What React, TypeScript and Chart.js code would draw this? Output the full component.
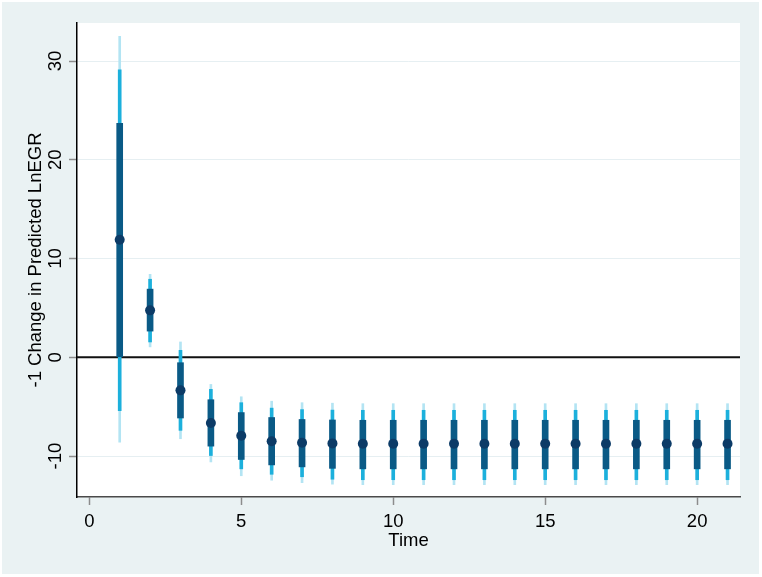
import React, { useEffect, useRef } from "react";
import { Chart, registerables } from "chart.js";

Chart.register(...registerables);

const periods = [1, 2, 3, 4, 5, 6, 7, 8, 9, 10, 11, 12, 13, 14, 15, 16, 17, 18, 19, 20, 21];
const estimate = [11.9, 4.75, -3.35, -6.65, -7.95, -8.5, -8.65, -8.72, -8.75, -8.75, -8.75, -8.75, -8.75, -8.75, -8.75, -8.75, -8.75, -8.75, -8.75, -8.75, -8.75];
const ci68Low = [0.0, 2.65, -6.15, -9.0, -10.35, -10.9, -11.1, -11.25, -11.3, -11.3, -11.3, -11.3, -11.3, -11.3, -11.3, -11.3, -11.3, -11.3, -11.3, -11.3, -11.3];
const ci68High = [23.7, 6.9, -0.55, -4.3, -5.6, -6.1, -6.3, -6.35, -6.38, -6.38, -6.38, -6.38, -6.38, -6.38, -6.38, -6.38, -6.38, -6.38, -6.38, -6.38, -6.38];
const ci90Low = [-5.4, 1.55, -7.4, -9.95, -11.3, -11.85, -12.1, -12.35, -12.4, -12.4, -12.4, -12.4, -12.4, -12.4, -12.4, -12.4, -12.4, -12.4, -12.4, -12.4, -12.4];
const ci90High = [29.1, 7.9, 0.7, -3.25, -4.6, -5.15, -5.3, -5.35, -5.37, -5.37, -5.37, -5.37, -5.37, -5.37, -5.37, -5.37, -5.37, -5.37, -5.37, -5.37, -5.37];
const ci95Low = [-8.6, 1.05, -8.25, -10.6, -12.0, -12.45, -12.7, -12.85, -12.9, -12.9, -12.9, -12.9, -12.9, -12.9, -12.9, -12.9, -12.9, -12.9, -12.9, -12.9, -12.9];
const ci95High = [32.5, 8.4, 1.55, -2.75, -4.0, -4.45, -4.6, -4.65, -4.7, -4.7, -4.7, -4.7, -4.7, -4.7, -4.7, -4.7, -4.7, -4.7, -4.7, -4.7, -4.7];
const zeroLine = 0;
const xTitle = "Time";
const yTitle = "-1 Change in Predicted LnEGR";

const FONT = "'Liberation Sans', Arial, sans-serif";

export default function App() {
  const ref = useRef<HTMLCanvasElement>(null);
  useEffect(() => {
    if (!ref.current) return;
    const bgPlugin = {
      id: "bg",
      beforeDraw(chart: any) {
        const { ctx, chartArea } = chart;
        ctx.save();
        ctx.fillStyle = "#EAF2F3";
        ctx.fillRect(0, 0, chart.width, chart.height);
        ctx.fillStyle = "#ffffff";
        ctx.fillRect(chartArea.left, chartArea.top, chartArea.right - chartArea.left, chartArea.bottom - chartArea.top);
        ctx.restore();
      },
      beforeDatasetsDraw(chart: any) {
        const { ctx, chartArea, scales } = chart;
        const y = scales.y.getPixelForValue(zeroLine);
        ctx.save();
        ctx.strokeStyle = "#111111";
        ctx.lineWidth = 2;
        ctx.beginPath();
        ctx.moveTo(chartArea.left, y);
        ctx.lineTo(chartArea.right, y);
        ctx.stroke();
        ctx.restore();
      },
    };
    const mk = (lo: number[], hi: number[]) => periods.map((p, i) => ({ x: p, y: [lo[i], hi[i]] }));
    const chart = new Chart(ref.current, {
      type: "bar",
      data: {
        datasets: [
          { type: "bar", data: mk(ci95Low, ci95High) as any, backgroundColor: "#b3e4f3", barThickness: 2, grouped: false, order: 4 } as any,
          { type: "bar", data: mk(ci90Low, ci90High) as any, backgroundColor: "#1cb0dc", barThickness: 3, grouped: false, order: 3 } as any,
          { type: "bar", data: mk(ci68Low, ci68High) as any, backgroundColor: "#0a5a86", barThickness: 6, grouped: false, order: 2 } as any,
          {
            type: "scatter",
            data: periods.map((p, i) => ({ x: p, y: estimate[i] })),
            pointRadius: 5,
            pointBackgroundColor: "#0c3b67",
            pointBorderWidth: 0,
            order: 1,
          } as any,
        ],
      },
      plugins: [bgPlugin],
      options: {
        animation: false,
        responsive: false,
        layout: { padding: { top: 21, right: 19, left: 0, bottom: 0 } },
        plugins: { legend: { display: false }, tooltip: { enabled: false } },
        scales: {
          x: {
            type: "linear",
            offset: false,
            min: -0.405,
            max: 21.41,
            afterFit(s: any) { s.height = 77; },
            ticks: {
              stepSize: 5,
              includeBounds: false,
              color: "#000",
              padding: 6,
              font: { family: FONT, size: 18.5 },
            },
            grid: { offset: false, drawOnChartArea: false, tickLength: 8, tickColor: "#8c8c8c", tickWidth: 1.5 },
            border: { color: "#4a4a4a", width: 1.5 },
            title: { display: true, text: xTitle, color: "#000", font: { family: FONT, size: 18.5 }, padding: { top: 0, bottom: 22 } },
          },
          y: {
            type: "linear",
            min: -14.15,
            max: 33.85,
            afterFit(s: any) { s.width = 75; },
            ticks: {
              stepSize: 10,
              includeBounds: false,
              color: "#000",
              padding: 0,
              minRotation: 90,
              maxRotation: 90,
              crossAlign: "center",
              font: { family: FONT, size: 18.5 },
            },
            grid: { color: "#e6eff2", lineWidth: 1, tickLength: 8, tickColor: "#8c8c8c", tickWidth: 1.5 },
            border: { color: "#000", width: 1.5 },
            title: { display: true, text: yTitle, color: "#000", font: { family: FONT, size: 18.5 }, padding: { top: 23, bottom: 0 } },
          },
        },
      } as any,
    });
    return () => chart.destroy();
  }, []);
  return (
    <div style={{ position: "fixed", left: 2, top: 2, width: 757, height: 572 }}>
      <canvas ref={ref} width={757} height={572} style={{ display: "block" }} />
    </div>
  );
}
